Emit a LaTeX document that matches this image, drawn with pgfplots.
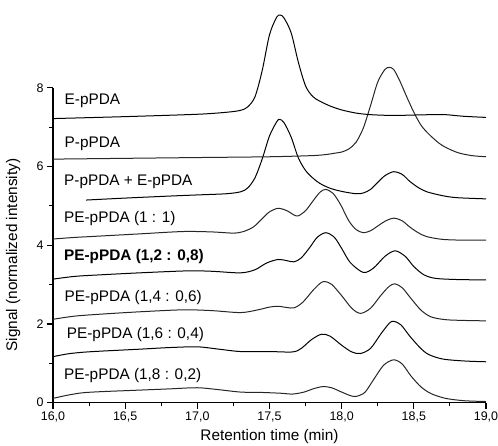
\documentclass[border=0pt]{standalone}
\usepackage{fontspec}
\setmainfont{Liberation Sans}
\usepackage{pgfplots}
\pgfplotsset{compat=1.18}
\tikzset{lbl/.style={anchor=base west, inner sep=0pt, font=\fontsize{15.4}{18}\selectfont}}

\begin{document}
\begin{tikzpicture}
\begin{axis}[
    name=ax,
    scale only axis,
    width=433bp, height=314.8bp,
    xmin=16, xmax=19, ymin=0, ymax=8,
    clip=false,
    axis lines=left,
    axis line style={-, line width=1.2bp},
    every tick/.style={black, line width=1.1bp},
    tick align=outside,
    major tick length=6bp, minor tick length=3.5bp,
    xtick={16,16.5,...,19}, ytick={0,2,4,6,8},
    minor x tick num=1, minor y tick num=1,
    /pgf/number format/assume math mode=true,
    ticklabel style={font=\fontsize{12.5}{14}\selectfont},
    xticklabel style={/pgf/number format/.cd, fixed, fixed zerofill, precision=1, use comma},
    label style={font=\fontsize{15.4}{18}\selectfont},
    xlabel={Retention time (min)},
    ylabel={Signal (normalized intensity)},
    ylabel style={at={(axis description cs:-0.092,0.469)}, anchor=center},
    cycle list={{black!85, solid}},
    every axis plot/.append style={line width=1bp, smooth, no markers},
]
% PE-pPDA (1,8 : 0,2)
\addplot coordinates {(16.0,0.11) (16.1,0.19) (16.2,0.25) (16.33,0.28) (16.6,0.32) (16.8,0.35) (17.0,0.38) (17.15,0.33)
 (17.3,0.27) (17.45,0.26) (17.58,0.24) (17.66,0.22) (17.74,0.27) (17.80,0.35) (17.87,0.41) (17.93,0.38) (18.0,0.27)
 (18.06,0.18) (18.10,0.16) (18.16,0.26) (18.22,0.58) (18.29,0.95) (18.36,1.09) (18.42,0.98) (18.48,0.68) (18.55,0.40)
 (18.62,0.23) (18.72,0.11) (18.85,0.05) (19.0,0.03)};
% PE-pPDA (1,6 : 0,4)
\addplot coordinates {(16.0,1.17) (16.1,1.24) (16.2,1.28) (16.33,1.31) (16.6,1.36) (16.8,1.40) (17.0,1.42) (17.15,1.36)
 (17.3,1.30) (17.5,1.30) (17.66,1.29) (17.72,1.38) (17.79,1.60) (17.86,1.74) (17.92,1.69) (18.0,1.46) (18.07,1.29)
 (18.13,1.25) (18.20,1.38) (18.27,1.74) (18.33,2.02) (18.36,2.07) (18.41,1.98) (18.47,1.70) (18.54,1.41) (18.60,1.23)
 (18.70,1.11) (18.85,1.06) (19.0,1.04)};
% PE-pPDA (1,4 : 0,6)
\addplot coordinates {(16.0,2.12) (16.15,2.20) (16.33,2.25) (16.6,2.31) (16.9,2.36) (17.1,2.34) (17.30,2.29) (17.42,2.36)
 (17.50,2.43) (17.56,2.45) (17.62,2.42) (17.67,2.41) (17.73,2.55) (17.80,2.85) (17.85,3.03) (17.88,3.08) (17.93,3.01)
 (18.0,2.72) (18.07,2.40) (18.13,2.27) (18.20,2.40) (18.27,2.72) (18.33,2.96) (18.37,3.02) (18.42,2.92) (18.48,2.65)
 (18.55,2.35) (18.62,2.18) (18.72,2.11) (18.85,2.09) (19.0,2.08)};
% PE-pPDA (1,2 : 0,8)
\addplot coordinates {(16.0,3.14) (16.15,3.21) (16.33,3.25) (16.6,3.30) (16.93,3.35) (17.1,3.34) (17.30,3.30) (17.40,3.38)
 (17.48,3.55) (17.56,3.64) (17.62,3.61) (17.67,3.58) (17.72,3.68) (17.78,3.95) (17.83,4.20) (17.89,4.32) (17.95,4.20)
 (18.0,3.92) (18.06,3.56) (18.15,3.31) (18.22,3.42) (18.30,3.72) (18.37,3.86) (18.44,3.72) (18.50,3.46) (18.57,3.25)
 (18.65,3.16) (18.8,3.13) (19.0,3.12)};
% PE-pPDA (1 : 1)
\addplot coordinates {(16.0,4.16) (16.15,4.20) (16.3,4.23) (16.6,4.29) (16.9,4.35) (17.1,4.34) (17.25,4.31) (17.32,4.35)
 (17.39,4.47) (17.45,4.68) (17.50,4.85) (17.56,4.94) (17.62,4.88) (17.67,4.77) (17.70,4.75) (17.75,4.88) (17.80,5.12)
 (17.85,5.35) (17.89,5.42) (17.94,5.32) (17.99,5.05) (18.05,4.62) (18.10,4.40) (18.15,4.32) (18.20,4.37) (18.25,4.49)
 (18.30,4.61) (18.36,4.69) (18.42,4.62) (18.47,4.47) (18.53,4.32) (18.59,4.22) (18.7,4.15) (18.85,4.13) (19.0,4.13)};
% P-pPDA + E-pPDA
\addplot coordinates {(16.23,5.15) (16.5,5.20) (16.8,5.25) (17.0,5.28) (17.2,5.31) (17.30,5.36) (17.35,5.46) (17.40,5.72)
 (17.45,6.20) (17.50,6.78) (17.55,7.14) (17.57,7.20) (17.60,7.12) (17.65,6.75) (17.70,6.22) (17.75,5.90) (17.80,5.71)
 (17.85,5.57) (17.92,5.45) (18.0,5.37) (18.1,5.31) (18.15,5.33) (18.2,5.42) (18.25,5.60) (18.30,5.77) (18.36,5.87)
 (18.42,5.80) (18.47,5.63) (18.53,5.47) (18.59,5.36) (18.7,5.26) (18.8,5.21) (19.0,5.18)};
% P-pPDA
\addplot coordinates {(16.0,6.19) (16.5,6.21) (17.0,6.23) (17.5,6.25) (17.8,6.28) (17.9,6.31) (17.95,6.34) (18.0,6.37)
 (18.05,6.45) (18.1,6.62) (18.15,6.98) (18.2,7.55) (18.25,8.15) (18.30,8.47) (18.33,8.52) (18.36,8.47) (18.40,8.20)
 (18.45,7.78) (18.50,7.38) (18.55,7.05) (18.60,6.84) (18.65,6.67) (18.70,6.53) (18.80,6.36) (18.90,6.28) (19.0,6.25)};
% E-pPDA
\addplot coordinates {(16.0,7.22) (16.5,7.27) (17.0,7.33) (17.2,7.38) (17.3,7.43) (17.35,7.52) (17.40,7.78) (17.45,8.45)
 (17.50,9.35) (17.55,9.80) (17.575,9.85) (17.60,9.78) (17.65,9.40) (17.70,8.65) (17.75,8.05) (17.80,7.78) (17.85,7.66)
 (17.92,7.54) (18.0,7.44) (18.1,7.36) (18.2,7.32) (18.35,7.30) (18.5,7.31) (18.62,7.32) (18.72,7.32) (18.84,7.28)
 (19.0,7.25)};

\node[lbl] at (axis cs:16.080,7.57) {E-pPDA};
\node[lbl] at (axis cs:16.080,6.48) {P-pPDA};
\node[lbl] at (axis cs:16.076,5.51) {P-pPDA + E-pPDA};
\node[lbl] at (axis cs:16.076,4.57) {PE-pPDA (1 : 1)};
\node[lbl] at (axis cs:16.076,3.61) {\textbf{PE-pPDA (1,2 : 0,8)}};
\node[lbl] at (axis cs:16.080,2.57) {PE-pPDA (1,4 : 0,6)};
\node[lbl] at (axis cs:16.095,1.62) {PE-pPDA (1,6 : 0,4)};
\node[lbl] at (axis cs:16.076,0.58) {PE-pPDA (1,8 : 0,2)};
\end{axis}
\pgfresetboundingbox
\path[use as bounding box] ([shift={(-53bp,-43.3bp)}]ax.south west) rectangle ++(498bp,446bp);
\end{tikzpicture}
\end{document}
